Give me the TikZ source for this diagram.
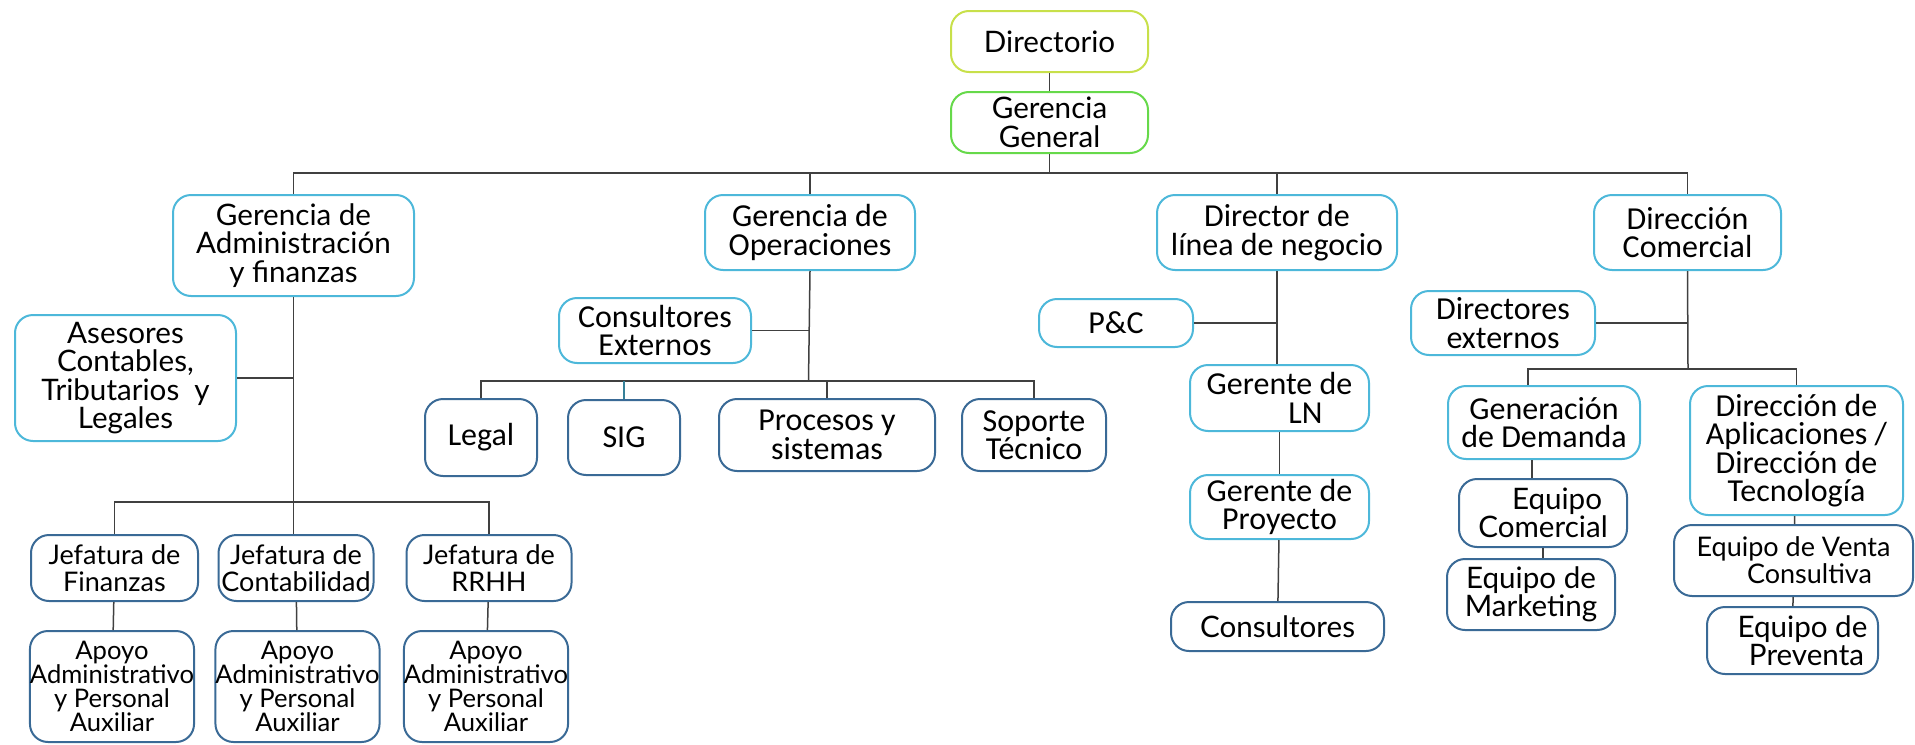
\documentclass[tikz,border=0pt]{standalone}
\usepackage{fontspec}
\setmainfont{Lato}
\newfontfamily\calfont{Carlito}
\usetikzlibrary{positioning,calc}

\definecolor{cielo}{HTML}{4DB8DA}
\definecolor{marino}{HTML}{3A6A96}
\definecolor{lima}{HTML}{C8E04A}
\definecolor{verde}{HTML}{66D94A}
\definecolor{linea}{HTML}{404040}

\tikzset{
  caja/.style={shape=rectangle,draw,rounded corners=9pt,align=center,inner sep=0pt,
    line width=1pt,fill=white,font=\fontsize{14.8}{14.2}\selectfont},
  cajac/.style={caja,font=\calfont\fontsize{16}{14.2}\selectfont},
  chica/.style={font=\fontsize{13.5}{13.5}\selectfont},
  lbox/.style={caja,draw=cielo},
  lboxc/.style={cajac,draw=cielo},
  dbox/.style={caja,draw=marino},
  dboxc/.style={cajac,draw=marino},
  conn/.style={draw=linea,line width=0.75pt}
}

\begin{document}
\begin{tikzpicture}[x=0.5pt,y=-0.5pt]
\useasboundingbox (0,0) rectangle (1915,744);

% cabeza
\node[caja,draw=lima,minimum width=98.5pt,minimum height=30.5pt] (dir) at (1049.5,41.5) {Directorio};
\node[caja,draw=verde,minimum width=98.5pt,minimum height=30.5pt] (gg) at (1049.5,122.5) {Gerencia\\General};

% gerencias
\node[lbox,minimum width=120.5pt,minimum height=50.5pt] (adm) at (293.5,245.5) {Gerencia de\\Administración\\y finanzas};
\node[lboxc,minimum width=105pt,minimum height=37.5pt] (ops) at (810,232.5) {Gerencia de\\Operaciones};
\node[lboxc,minimum width=120pt,minimum height=37.5pt] (dln) at (1277,232.5) {Director de\\línea de negocio};
\node[lboxc,minimum width=93.5pt,minimum height=37.5pt] (com) at (1687.5,232.5) {Dirección\\Comercial};

% administracion
\node[lbox,minimum width=110.5pt,minimum height=63pt] (ase) at (125.5,378) {Asesores\\Contables,\\Tributarios\ \ y\\Legales};
\node[dbox,chica,minimum width=83.5pt,minimum height=33pt] (fin) at (114.5,568) {Jefatura de\\Finanzas};
\node[dbox,chica,minimum width=77.5pt,minimum height=33pt] (cont) at (296,568) {Jefatura de\\Contabilidad};
\node[dbox,chica,minimum width=82.5pt,minimum height=33pt] (rrhh) at (489,568) {Jefatura de\\RRHH};
\node[dbox,minimum width=81pt,minimum height=55.5pt,font=\fontsize{12.8}{12}\selectfont] (apo1) at (112,686.5) {Apoyo\\Administrativo\\y Personal\\Auxiliar};
\node[dbox,minimum width=78.5pt,minimum height=55.5pt,font=\fontsize{12.8}{12}\selectfont] (apo2) at (297.5,686.5) {Apoyo\\Administrativo\\y Personal\\Auxiliar};
\node[dbox,minimum width=82pt,minimum height=55.5pt,font=\fontsize{12.8}{12}\selectfont] (apo3) at (486,686.5) {Apoyo\\Administrativo\\y Personal\\Auxiliar};

% operaciones
\node[lboxc,minimum width=96pt,minimum height=32.5pt] (cext) at (655,330.5) {Consultores\\Externos};
\node[dboxc,minimum width=56pt,minimum height=38.5pt] (legal) at (481,437.5) {Legal};
\node[dboxc,minimum width=56pt,minimum height=37.5pt] (sig) at (624,437.5) {SIG};
\node[dboxc,minimum width=108pt,minimum height=36pt] (proc) at (827,435) {Procesos y\\sistemas};
\node[dboxc,minimum width=72pt,minimum height=36pt] (sop) at (1034,435) {Soporte\\Técnico};

% linea de negocio
\node[lboxc,minimum width=77pt,minimum height=24pt] (pyc) at (1116,323) {P\&C};
\node[lboxc,minimum width=89.5pt,minimum height=33pt] (gln) at (1279.5,398) {Gerente de\\\hspace*{26pt}LN};
\node[lboxc,minimum width=89.5pt,minimum height=32pt] (gpr) at (1279.5,507) {Gerente de\\Proyecto};
\node[dbox,minimum width=106.5pt,minimum height=24.5pt] (cons) at (1277.5,626.5) {Consultores};

% comercial
\node[lboxc,minimum width=92pt,minimum height=32pt] (dext) at (1503,323) {Directores\\externos};
\node[lboxc,minimum width=96pt,minimum height=36.5pt] (gen) at (1544,422.5) {Generación\\de Demanda};
\node[lboxc,minimum width=106.5pt,minimum height=64.5pt] (apl) at (1796.5,450.5) {Dirección de\\Aplicaciones /\\Dirección de\\Tecnología};
\node[dbox,minimum width=84pt,minimum height=34pt] (eqc) at (1543,513) {\hspace*{14pt}Equipo\\Comercial};
\node[dbox,minimum width=84pt,minimum height=35.5pt] (mkt) at (1531,594.5) {Equipo de\\Marketing};
\node[dbox,chica,minimum width=119.5pt,minimum height=35.5pt] (vta) at (1793.5,560.5) {Equipo de Venta\\\hspace*{16pt}Consultiva};
\node[dbox,minimum width=85.5pt,minimum height=33.5pt] (pre) at (1792.5,640.5) {\hspace*{10pt}Equipo de\\\hspace*{14pt}Preventa};

% puntos de reparto
\coordinate (b0) at (1049.5,173);
\coordinate (b1) at (293.5,502);
\coordinate (b2) at (808.5,381);
\coordinate (b3) at (1688,369);

% lineas
\draw[conn] (dir) -- (gg);
\draw[conn] (gg) -- (b0);
\draw[conn] (adm.north) |- (b0) -| (com.north);
\draw[conn] (ops.north) -- (ops.north |- b0);
\draw[conn] (dln.north) -- (dln.north |- b0);

\draw[conn] (adm.south) -- (adm.south |- cont.north);
\draw[conn] (ase.east) -- (ase.east -| adm.south);
\draw[conn] (fin.north) |- (b1) -| (rrhh.north);
\draw[conn] (fin) -- (apo1);
\draw[conn] (cont) -- (apo2);
\draw[conn] (rrhh) -- (apo3);

\draw[conn] (ops.south) -- (b2);
\draw[conn] (cext.east) -- (cext.east -| ops.south);
\draw[conn] (legal.north) |- (b2) -| (sop.north);
\draw[conn,draw=cielo!70!black] (sig.north) -- (sig.north |- b2);
\draw[conn] (proc.north) -- (proc.north |- b2);

\draw[conn] (dln.south) -- (dln.south |- gln.north);
\draw[conn] (pyc.east) -- (pyc.east -| dln.south);
\draw[conn] (gln) -- (gpr);
\draw[conn] (gpr) -- (cons);

\draw[conn] (com.south) -- (b3);
\draw[conn] (dext.east) -- (dext.east -| com.south);
\draw[conn] ([xshift=-8pt]gen.north) |- (b3) -| (apl.north);
\draw[conn] ([xshift=-6pt]gen.south) -- ([xshift=-6pt]gen.south |- eqc.north);
\draw[conn] (eqc.south) -- (eqc.south |- mkt.north);
\draw[conn] (apl) -- (vta);
\draw[conn] (vta) -- (pre);
\end{tikzpicture}
\end{document}
